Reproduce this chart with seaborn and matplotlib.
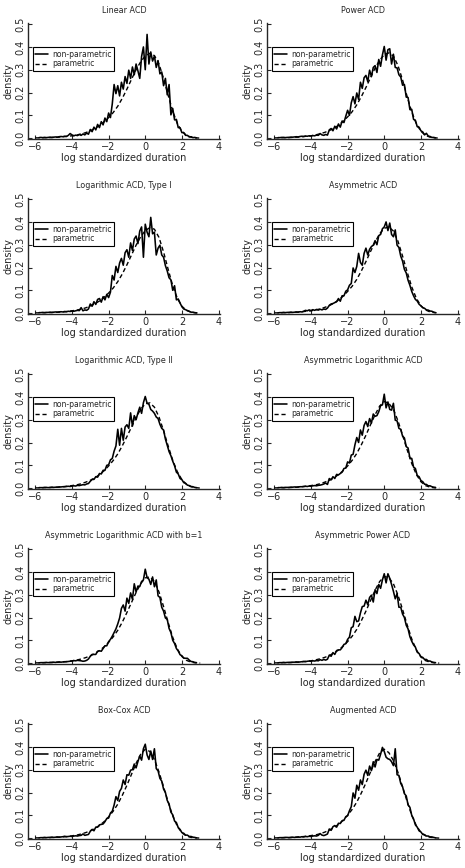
import numpy as np
import seaborn as sns
import matplotlib
matplotlib.use("Agg")
import matplotlib.pyplot as plt

sns.set_style("ticks", {"xtick.direction": "in", "ytick.direction": "in"})
plt.rcParams['font.family'] = ['DejaVu Sans']

# x grids: non-parametric estimate every 0.1, parametric density every 0.25
np_x = np.round(np.arange(-5.8, 2.81, 0.1), 1)
par_x = np.arange(-6.0, 3.01, 0.25)

titles = ['Linear ACD', 'Power ACD',
          'Logarithmic ACD, Type I', 'Asymmetric ACD',
          'Logarithmic ACD, Type II', 'Asymmetric Logarithmic ACD',
          'Asymmetric Logarithmic ACD with b=1', 'Asymmetric Power ACD',
          'Box-Cox ACD', 'Augmented ACD']

# non-parametric densities (x = -5.8 ... 2.8)
np_linear = [0.002, 0.003, 0.002, 0.003, 0.002, 0.003, 0.004, 0.003, 0.004, 0.005,
             0.004, 0.006, 0.007, 0.006, 0.008, 0.007, 0.012, 0.020, 0.014, 0.010,
             0.013, 0.011, 0.016, 0.012, 0.018, 0.014, 0.022, 0.017,
             0.038, 0.028, 0.048, 0.036, 0.060, 0.046, 0.072, 0.058, 0.088, 0.072,
             0.110, 0.090, 0.150, 0.235, 0.195, 0.230, 0.185, 0.245, 0.215, 0.270,
             0.240, 0.298, 0.262, 0.312, 0.278, 0.325, 0.295, 0.262, 0.358, 0.400,
             0.300, 0.455, 0.325, 0.378, 0.338, 0.360, 0.310, 0.340, 0.282, 0.290,
             0.230, 0.262, 0.190, 0.235, 0.102, 0.130, 0.080, 0.082, 0.046, 0.045,
             0.024, 0.024, 0.012, 0.012, 0.005, 0.006, 0.002, 0.003, 0.001]
np_power = [0.002, 0.002, 0.003, 0.003, 0.002, 0.003, 0.003, 0.004, 0.004, 0.005,
            0.006, 0.005, 0.007, 0.008, 0.007, 0.009, 0.008, 0.010, 0.009, 0.011,
            0.010, 0.013, 0.012, 0.020, 0.014, 0.012, 0.016, 0.013,
            0.036, 0.042, 0.032, 0.052, 0.040, 0.062, 0.048, 0.075, 0.068, 0.096,
            0.122, 0.100, 0.155, 0.182, 0.150, 0.198, 0.170, 0.245, 0.218, 0.265,
            0.275, 0.248, 0.298, 0.270, 0.310, 0.318, 0.288, 0.345, 0.315, 0.365,
            0.402, 0.342, 0.388, 0.392, 0.325, 0.368, 0.310, 0.308, 0.278, 0.268,
            0.232, 0.235, 0.180, 0.178, 0.125, 0.126, 0.082, 0.078, 0.050, 0.048,
            0.032, 0.027, 0.014, 0.021, 0.009, 0.007, 0.003, 0.003, 0.001]
np_log1 = [0.002, 0.002, 0.003, 0.002, 0.003, 0.003, 0.004, 0.003, 0.004, 0.005,
           0.004, 0.005, 0.006, 0.005, 0.007, 0.006, 0.008, 0.007, 0.009, 0.008,
           0.010, 0.012, 0.011, 0.024, 0.010, 0.014, 0.012, 0.018,
           0.040, 0.030, 0.050, 0.038, 0.060, 0.064, 0.048, 0.072, 0.058, 0.082,
           0.068, 0.092, 0.165, 0.145, 0.205, 0.178, 0.220, 0.240, 0.210, 0.265,
           0.278, 0.245, 0.308, 0.275, 0.325, 0.338, 0.305, 0.360, 0.378, 0.245,
           0.390, 0.355, 0.335, 0.420, 0.348, 0.355, 0.255, 0.285, 0.298, 0.255,
           0.245, 0.208, 0.185, 0.155, 0.146, 0.100, 0.120, 0.058, 0.062, 0.044,
           0.028, 0.018, 0.015, 0.011, 0.008, 0.004, 0.004, 0.002, 0.001]
np_asym = [0.001, 0.002, 0.002, 0.003, 0.002, 0.003, 0.003, 0.004, 0.003, 0.004,
           0.005, 0.004, 0.006, 0.005, 0.008, 0.012, 0.010, 0.014, 0.011, 0.015,
           0.012, 0.016, 0.013, 0.017, 0.014, 0.018, 0.016, 0.022,
           0.034, 0.040, 0.042, 0.046, 0.050, 0.064, 0.052, 0.076, 0.076, 0.096,
           0.102, 0.122, 0.130, 0.198, 0.178, 0.205, 0.262, 0.222, 0.210, 0.262,
           0.285, 0.255, 0.280, 0.292, 0.298, 0.318, 0.300, 0.340, 0.345, 0.370,
           0.378, 0.400, 0.362, 0.395, 0.345, 0.335, 0.365, 0.298, 0.288, 0.250,
           0.228, 0.192, 0.176, 0.144, 0.122, 0.095, 0.076, 0.060, 0.053, 0.039,
           0.032, 0.024, 0.021, 0.014, 0.013, 0.009, 0.008, 0.004, 0.002]
np_log2 = [0.002, 0.002, 0.002, 0.003, 0.003, 0.002, 0.003, 0.004, 0.003, 0.004,
           0.004, 0.005, 0.005, 0.006, 0.006, 0.007, 0.008, 0.007, 0.009, 0.010,
           0.009, 0.012, 0.011, 0.013, 0.015, 0.014, 0.018, 0.020,
           0.030, 0.038, 0.038, 0.050, 0.048, 0.064, 0.062, 0.078, 0.078, 0.100,
           0.102, 0.124, 0.130, 0.162, 0.185, 0.258, 0.188, 0.262, 0.210, 0.268,
           0.278, 0.262, 0.330, 0.272, 0.318, 0.300, 0.330, 0.355, 0.328, 0.375,
           0.402, 0.372, 0.368, 0.345, 0.338, 0.328, 0.312, 0.305, 0.280, 0.262,
           0.255, 0.215, 0.188, 0.160, 0.142, 0.118, 0.098, 0.070, 0.062, 0.042,
           0.037, 0.024, 0.021, 0.013, 0.011, 0.007, 0.006, 0.003, 0.002]
np_asymlog = [0.002, 0.002, 0.003, 0.002, 0.003, 0.003, 0.003, 0.004, 0.004, 0.005,
              0.004, 0.005, 0.006, 0.006, 0.007, 0.008, 0.007, 0.009, 0.008, 0.010,
              0.011, 0.010, 0.012, 0.013, 0.015, 0.018, 0.022, 0.016,
              0.042, 0.036, 0.050, 0.042, 0.060, 0.058, 0.064, 0.070, 0.086, 0.088,
              0.115, 0.110, 0.145, 0.148, 0.190, 0.222, 0.200, 0.255, 0.232, 0.275,
              0.292, 0.270, 0.305, 0.285, 0.325, 0.315, 0.318, 0.335, 0.362, 0.365,
              0.412, 0.352, 0.378, 0.345, 0.342, 0.372, 0.298, 0.295, 0.262, 0.258,
              0.228, 0.220, 0.182, 0.176, 0.132, 0.130, 0.092, 0.086, 0.055, 0.050,
              0.033, 0.028, 0.017, 0.016, 0.010, 0.010, 0.006, 0.004, 0.003]
np_b1 = [0.001, 0.002, 0.002, 0.002, 0.003, 0.002, 0.003, 0.003, 0.004, 0.003,
         0.004, 0.005, 0.004, 0.005, 0.006, 0.006, 0.007, 0.008, 0.009, 0.011,
         0.010, 0.012, 0.011, 0.010, 0.008, 0.009, 0.012, 0.018,
         0.030, 0.038, 0.038, 0.038, 0.052, 0.054, 0.052, 0.064, 0.076, 0.076,
         0.094, 0.104, 0.118, 0.134, 0.150, 0.172, 0.198, 0.240, 0.255, 0.228,
         0.285, 0.262, 0.308, 0.280, 0.348, 0.312, 0.338, 0.336, 0.358, 0.365,
         0.412, 0.375, 0.368, 0.345, 0.378, 0.335, 0.365, 0.295, 0.288, 0.245,
         0.228, 0.198, 0.192, 0.152, 0.134, 0.100, 0.086, 0.064, 0.053, 0.037,
         0.032, 0.022, 0.021, 0.021, 0.013, 0.007, 0.006, 0.003, 0.002]
np_apower = [0.001, 0.002, 0.002, 0.003, 0.002, 0.003, 0.003, 0.003, 0.004, 0.004,
             0.005, 0.004, 0.005, 0.006, 0.007, 0.006, 0.008, 0.009, 0.008, 0.010,
             0.009, 0.011, 0.010, 0.015, 0.012, 0.016, 0.013, 0.017,
             0.035, 0.030, 0.046, 0.038, 0.055, 0.058, 0.058, 0.068, 0.082, 0.085,
             0.104, 0.114, 0.155, 0.160, 0.205, 0.182, 0.185, 0.220, 0.248, 0.250,
             0.276, 0.256, 0.288, 0.298, 0.268, 0.322, 0.305, 0.345, 0.328, 0.365,
             0.392, 0.352, 0.392, 0.372, 0.345, 0.315, 0.282, 0.305, 0.245, 0.245,
             0.215, 0.200, 0.166, 0.150, 0.116, 0.096, 0.080, 0.070, 0.048, 0.042,
             0.028, 0.025, 0.016, 0.016, 0.009, 0.009, 0.005, 0.003, 0.002]
np_boxcox = [0.001, 0.002, 0.002, 0.003, 0.002, 0.003, 0.003, 0.004, 0.003, 0.004,
             0.005, 0.004, 0.005, 0.006, 0.008, 0.006, 0.007, 0.008, 0.007, 0.009,
             0.010, 0.009, 0.011, 0.012, 0.018, 0.012, 0.014, 0.016,
             0.030, 0.038, 0.032, 0.048, 0.048, 0.058, 0.060, 0.062, 0.072, 0.086,
             0.088, 0.110, 0.118, 0.145, 0.182, 0.165, 0.205, 0.218, 0.255, 0.235,
             0.278, 0.276, 0.298, 0.300, 0.325, 0.308, 0.336, 0.360, 0.342, 0.392,
             0.412, 0.365, 0.345, 0.382, 0.345, 0.392, 0.305, 0.295, 0.262, 0.250,
             0.215, 0.200, 0.165, 0.150, 0.114, 0.102, 0.075, 0.068, 0.046, 0.038,
             0.024, 0.021, 0.013, 0.013, 0.007, 0.007, 0.004, 0.003, 0.001]
np_aug = [0.001, 0.002, 0.002, 0.002, 0.003, 0.003, 0.002, 0.003, 0.004, 0.003,
          0.004, 0.005, 0.004, 0.006, 0.005, 0.007, 0.006, 0.008, 0.007, 0.009,
          0.010, 0.009, 0.012, 0.020, 0.013, 0.011, 0.014, 0.018,
          0.040, 0.034, 0.050, 0.055, 0.048, 0.065, 0.064, 0.076, 0.078, 0.094,
          0.098, 0.120, 0.138, 0.198, 0.175, 0.232, 0.210, 0.255, 0.235, 0.280,
          0.298, 0.275, 0.316, 0.296, 0.335, 0.312, 0.345, 0.342, 0.368, 0.398,
          0.380, 0.355, 0.348, 0.345, 0.335, 0.318, 0.392, 0.278, 0.275, 0.240,
          0.225, 0.195, 0.185, 0.146, 0.135, 0.100, 0.084, 0.058, 0.048, 0.032,
          0.027, 0.016, 0.015, 0.009, 0.009, 0.005, 0.005, 0.003, 0.001]

# parametric densities (x = -6 ... 3)
par_linear = [0.001, 0.001, 0.002, 0.002, 0.003, 0.004, 0.006, 0.008, 0.010, 0.013,
              0.018, 0.024, 0.032, 0.042, 0.055, 0.071, 0.090, 0.112, 0.140, 0.175,
              0.215, 0.258, 0.300, 0.335, 0.360, 0.372, 0.362, 0.325, 0.262, 0.188,
              0.118, 0.064, 0.030, 0.012, 0.004, 0.001, 0.000]
par_power = [0.001, 0.001, 0.002, 0.002, 0.003, 0.004, 0.006, 0.008, 0.010, 0.014,
             0.019, 0.025, 0.033, 0.043, 0.056, 0.073, 0.093, 0.116, 0.146, 0.182,
             0.222, 0.265, 0.307, 0.342, 0.366, 0.374, 0.360, 0.318, 0.255, 0.182,
             0.115, 0.063, 0.030, 0.012, 0.004, 0.001, 0.000]
par_log1 = [0.001, 0.001, 0.002, 0.002, 0.003, 0.004, 0.005, 0.007, 0.010, 0.013,
            0.017, 0.023, 0.031, 0.041, 0.053, 0.069, 0.088, 0.110, 0.138, 0.172,
            0.212, 0.255, 0.298, 0.335, 0.362, 0.375, 0.368, 0.332, 0.268, 0.192,
            0.120, 0.065, 0.030, 0.012, 0.004, 0.001, 0.000]
par_asym = [0.001, 0.001, 0.002, 0.002, 0.003, 0.004, 0.006, 0.008, 0.010, 0.014,
            0.018, 0.025, 0.033, 0.043, 0.057, 0.074, 0.095, 0.118, 0.148, 0.185,
            0.226, 0.270, 0.312, 0.348, 0.372, 0.378, 0.360, 0.315, 0.250, 0.180,
            0.115, 0.065, 0.032, 0.014, 0.005, 0.002, 0.000]
par_log2 = [0.001, 0.001, 0.002, 0.002, 0.003, 0.004, 0.006, 0.008, 0.011, 0.014,
            0.019, 0.026, 0.034, 0.045, 0.059, 0.076, 0.097, 0.121, 0.150, 0.186,
            0.226, 0.268, 0.310, 0.346, 0.370, 0.374, 0.355, 0.312, 0.252, 0.185,
            0.122, 0.072, 0.037, 0.016, 0.006, 0.002, 0.000]
par_asymlog = [0.001, 0.001, 0.002, 0.002, 0.003, 0.004, 0.006, 0.008, 0.011, 0.014,
               0.019, 0.026, 0.034, 0.045, 0.059, 0.076, 0.097, 0.122, 0.152, 0.190,
               0.232, 0.278, 0.322, 0.360, 0.380, 0.372, 0.345, 0.295, 0.232, 0.168,
               0.108, 0.060, 0.028, 0.011, 0.004, 0.001, 0.000]
par_b1 = [0.001, 0.001, 0.002, 0.002, 0.003, 0.004, 0.005, 0.007, 0.010, 0.013,
          0.018, 0.024, 0.032, 0.042, 0.055, 0.071, 0.091, 0.115, 0.144, 0.180,
          0.222, 0.266, 0.310, 0.348, 0.374, 0.378, 0.358, 0.312, 0.248, 0.178,
          0.113, 0.062, 0.029, 0.012, 0.004, 0.001, 0.000]
par_apower = [0.001, 0.001, 0.002, 0.002, 0.003, 0.004, 0.006, 0.008, 0.010, 0.014,
              0.019, 0.025, 0.033, 0.044, 0.057, 0.074, 0.094, 0.118, 0.148, 0.186,
              0.228, 0.274, 0.320, 0.358, 0.380, 0.375, 0.348, 0.298, 0.235, 0.168,
              0.106, 0.058, 0.027, 0.011, 0.004, 0.001, 0.000]
par_boxcox = [0.001, 0.001, 0.002, 0.002, 0.003, 0.004, 0.005, 0.007, 0.010, 0.013,
              0.018, 0.024, 0.032, 0.042, 0.055, 0.072, 0.093, 0.118, 0.149, 0.188,
              0.232, 0.280, 0.328, 0.368, 0.390, 0.380, 0.345, 0.290, 0.225, 0.158,
              0.098, 0.052, 0.023, 0.009, 0.003, 0.001, 0.000]
par_aug = [0.001, 0.001, 0.002, 0.002, 0.003, 0.004, 0.006, 0.008, 0.011, 0.014,
           0.019, 0.026, 0.035, 0.046, 0.060, 0.078, 0.100, 0.126, 0.158, 0.198,
           0.242, 0.290, 0.336, 0.374, 0.390, 0.375, 0.340, 0.288, 0.225, 0.160,
           0.100, 0.055, 0.025, 0.010, 0.004, 0.001, 0.000]

np_curves = [np_linear, np_power, np_log1, np_asym, np_log2,
             np_asymlog, np_b1, np_apower, np_boxcox, np_aug]
par_curves = [par_linear, par_power, par_log1, par_asym, par_log2,
              par_asymlog, par_b1, par_apower, par_boxcox, par_aug]

W, H = 465, 868
fig = plt.figure(figsize=(W / 100, H / 100), dpi=100)

col_left = [28, 267]
ax_w = 192
row_top = [23, 198, 373, 548, 723]
ax_h = 116

for i, title in enumerate(titles):
    r, c = divmod(i, 2)
    ax = fig.add_axes([col_left[c] / W, 1 - (row_top[r] + ax_h) / H, ax_w / W, ax_h / H])

    sns.lineplot(x=np_x, y=np_curves[i], ax=ax, color='black', lw=1.15,
                 estimator=None, label='non-parametric')
    sns.lineplot(x=par_x, y=par_curves[i], ax=ax, color='black', lw=1.0,
                 linestyle=(0, (3, 2)), estimator=None, label='parametric')

    ax.set_xlim(-6.4, 4.08)
    ax.set_ylim(-0.004, 0.505)
    ax.set_xticks([-6, -4, -2, 0, 2, 4])
    ax.set_yticks([0.0, 0.1, 0.2, 0.3, 0.4, 0.5])
    ax.set_yticklabels(['0.0', '0.1', '0.2', '0.3', '0.4', '0.5'])
    ax.tick_params(labelsize=7, length=3, width=0.8, pad=2)
    ax.tick_params(axis='y', labelrotation=90)
    for lab in ax.get_yticklabels():
        lab.set_va('center')

    sns.despine(ax=ax)
    for sp in ['left', 'bottom']:
        ax.spines[sp].set_linewidth(1.0)

    ax.set_title(title, fontsize=5.8, pad=7)
    ax.set_xlabel('log standardized duration', fontsize=7, labelpad=1)
    ax.set_ylabel('density', fontsize=7, labelpad=1)

    leg = ax.legend(loc='upper left', bbox_to_anchor=(0.025, 0.79), frameon=True,
                    fancybox=False, edgecolor='black', fontsize=5.5, handlelength=1.7,
                    handletextpad=0.6, borderpad=0.3, labelspacing=0.1,
                    borderaxespad=0, framealpha=1)
    leg.get_frame().set_linewidth(0.8)

fig.savefig('out.png', dpi=100)
